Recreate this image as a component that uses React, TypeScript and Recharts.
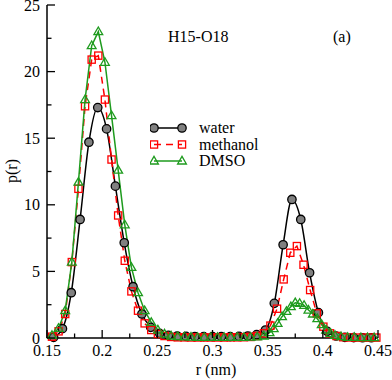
import { ComposedChart, Line, XAxis, YAxis, Legend } from "recharts";

const INK = "#000";
const RED = "#ff0000";
const GREEN = "#1e9b1e";
const GRAY = "#808080";
const TXT = { fontFamily: '"Liberation Serif"', fontSize: 16 };

// tick values (majors get labels)
const X_TICKS = [0.15, 0.175, 0.2, 0.225, 0.25, 0.275, 0.3, 0.325, 0.35, 0.375, 0.4, 0.425, 0.45];
const X_MAJOR = [0.15, 0.2, 0.25, 0.3, 0.35, 0.4, 0.45];
const Y_TICKS = [0, 2.5, 5, 7.5, 10, 12.5, 15, 17.5, 20, 22.5, 25];
const Y_MAJOR = [0, 5, 10, 15, 20, 25];

// water, r (nm) / p(r)
const waterR = [
  0.156, 0.164, 0.172, 0.18, 0.188, 0.196, 0.204, 0.212, 0.22, 0.228, 0.236, 0.244, 0.252,
  0.26, 0.268, 0.276, 0.284, 0.292, 0.3, 0.308, 0.316, 0.324, 0.332, 0.34, 0.348, 0.356,
  0.364, 0.372, 0.38, 0.388, 0.396, 0.404, 0.412, 0.42, 0.428, 0.436, 0.444,
];
const waterP = [
  0.05, 0.7, 3.4, 8.9, 14.7, 17.3, 15.7, 11.4, 7.15, 3.85, 1.8, 0.8, 0.35,
  0.2, 0.15, 0.12, 0.1, 0.1, 0.1, 0.1, 0.1, 0.12, 0.15, 0.25, 0.6, 2.6,
  7.0, 10.4, 8.9, 4.9, 1.9, 0.5, 0.15, 0.05, 0.03, 0.02, 0.02,
];

// methanol
const methR = [
  0.1545, 0.1605, 0.1665, 0.1725, 0.1785, 0.1845, 0.1905, 0.1965, 0.2025, 0.2085, 0.2145,
  0.2205, 0.2265, 0.2325, 0.2385, 0.2445, 0.2505, 0.2565, 0.2625, 0.2685, 0.2745, 0.2805,
  0.2865, 0.2925, 0.2985, 0.3045, 0.3105, 0.3165, 0.3225, 0.3285, 0.3345, 0.3405, 0.3465,
  0.3525, 0.3585, 0.3645, 0.3705, 0.3765, 0.3825, 0.3885, 0.3945, 0.4005, 0.4065, 0.4125,
  0.4185, 0.4245, 0.4305, 0.4365, 0.4425, 0.4485,
];
const methP = [
  0.1, 0.5, 1.8, 5.7, 11.2, 17.4, 20.9, 21.2, 17.9, 13.4, 9.2,
  5.8, 3.5, 2.05, 1.1, 0.6, 0.3, 0.15, 0.08, 0.05, 0.05, 0.04,
  0.04, 0.04, 0.04, 0.04, 0.04, 0.05, 0.05, 0.06, 0.08, 0.15, 0.35,
  0.93, 2.2, 4.4, 6.4, 6.9, 5.5, 3.6, 1.85, 0.85, 0.35, 0.15,
  0.06, 0.04, 0.03, 0.03, 0.03, 0.03,
];

// DMSO
const dmsoR = [
  0.1545, 0.1605, 0.1665, 0.1725, 0.1785, 0.1845, 0.1905, 0.1965, 0.2025, 0.2085, 0.2145,
  0.2205, 0.2265, 0.2325, 0.2385, 0.2445, 0.2505, 0.2565, 0.2625, 0.2685, 0.2745, 0.2805,
  0.2865, 0.2925, 0.2985, 0.3045, 0.3105, 0.3165, 0.3225, 0.3285, 0.3345, 0.3405, 0.3465,
  0.3517, 0.3555, 0.359, 0.363, 0.367, 0.371, 0.375, 0.379, 0.383, 0.387, 0.391, 0.395,
  0.399, 0.403, 0.407, 0.411, 0.4165, 0.4225, 0.4285, 0.4345, 0.4405, 0.4465,
];
const dmsoP = [
  0.2, 0.73, 2.05, 5.7, 11.7, 17.9, 21.95, 23.0, 20.7, 16.7, 12.6,
  8.5, 5.3, 3.4, 2.05, 1.17, 0.6, 0.3, 0.15, 0.1, 0.08, 0.06,
  0.05, 0.05, 0.05, 0.05, 0.05, 0.05, 0.05, 0.05, 0.06, 0.08, 0.15,
  0.4, 0.7, 1.1, 1.6, 2.0, 2.35, 2.65, 2.6, 2.45, 2.1, 1.8, 1.45,
  1.0, 0.6, 0.35, 0.2, 0.1, 0.05, 0.04, 0.03, 0.03, 0.03,
];

const zip = (r: number[], p: number[]) => r.map((x, i) => ({ r: x, p: p[i] }));
const waterData = zip(waterR, waterP);
const methData = zip(methR, methP);
const dmsoData = zip(dmsoR, dmsoP);

const LEGEND = ["water", "methanol", "DMSO"];

function Circle({ cx, cy }: { cx: number; cy: number }) {
  return <circle cx={cx} cy={cy} r={4.2} fill={GRAY} stroke={INK} strokeWidth={1.3} />;
}
function Square({ cx, cy }: { cx: number; cy: number }) {
  return <rect x={cx - 3.6} y={cy - 3.6} width={7.2} height={7.2} fill="none" stroke={RED} strokeWidth={1.3} />;
}
function Tri({ cx, cy }: { cx: number; cy: number }) {
  return (
    <polygon
      points={`${cx},${cy - 4.6} ${cx - 4.4},${cy + 3} ${cx + 4.4},${cy + 3}`}
      fill="none"
      stroke={GREEN}
      strokeWidth={1.3}
    />
  );
}

const dot = (Shape: typeof Circle) => (props: any) =>
  <Shape key={props.index} cx={props.cx} cy={props.cy} />;

function BottomTick({ x, y, payload }: any) {
  const major = X_MAJOR.includes(payload.value);
  return (
    <g>
      <line x1={x} x2={x} y1={y} y2={y - (major ? 8 : 4.5)} stroke={INK} strokeWidth={1.3} />
      {major && (
        <text x={x} y={y + 18} textAnchor="middle" style={TXT} fill={INK}>
          {payload.value}
        </text>
      )}
    </g>
  );
}
function TopTick({ x, y, payload }: any) {
  const major = X_MAJOR.includes(payload.value);
  return <line x1={x} x2={x} y1={y} y2={y + (major ? 8 : 4.5)} stroke={INK} strokeWidth={1.3} />;
}
function LeftTick({ x, y, payload }: any) {
  const major = Y_MAJOR.includes(payload.value);
  return (
    <g>
      <line x1={x} x2={x + (major ? 8 : 4.5)} y1={y} y2={y} stroke={INK} strokeWidth={1.3} />
      {major && (
        <text x={x - 7} y={y + 5.5} textAnchor="end" style={TXT} fill={INK}>
          {payload.value}
        </text>
      )}
    </g>
  );
}
function RightTick({ x, y, payload }: any) {
  const major = Y_MAJOR.includes(payload.value);
  return <line x1={x} x2={x - (major ? 8 : 4.5)} y1={y} y2={y} stroke={INK} strokeWidth={1.3} />;
}

function LegendBox() {
  const rows = [
    { stroke: INK, dash: undefined, Shape: Circle },
    { stroke: RED, dash: "7 5", Shape: Square },
    { stroke: GREEN, dash: undefined, Shape: Tri },
  ];
  return (
    <svg width={130} height={50}>
      {rows.map((row, i) => {
        const y = 8 + i * 16.5;
        return (
          <g key={LEGEND[i]}>
            <line x1={4} x2={32} y1={y} y2={y} stroke={row.stroke} strokeWidth={1.5} strokeDasharray={row.dash} />
            <row.Shape cx={4} cy={y} />
            <row.Shape cx={32} cy={y} />
            <text x={49} y={y + 5} style={TXT} fill={INK}>
              {LEGEND[i]}
            </text>
          </g>
        );
      })}
    </svg>
  );
}

export default function App() {
  const axisLine = { stroke: INK, strokeWidth: 1.5 };
  return (
    <div style={{ position: "absolute", left: 0, top: 0, width: 392, height: 380, background: "#fff" }}>
      <ComposedChart width={392} height={380} margin={{ top: 5, right: 14, bottom: 0, left: 0 }}>
        <XAxis
          dataKey="r"
          type="number"
          domain={[0.15, 0.45]}
          ticks={X_TICKS}
          interval={0}
          height={42}
          axisLine={axisLine}
          tickLine={false}
          tickSize={0}
          tickMargin={0}
          tick={<BottomTick />}
          allowDuplicatedCategory={false}
        />
        <XAxis
          xAxisId="top"
          orientation="top"
          type="number"
          domain={[0.15, 0.45]}
          ticks={X_TICKS}
          interval={0}
          height={0}
          axisLine={axisLine}
          tickLine={false}
          tickSize={0}
          tickMargin={0}
          tick={<TopTick />}
        />
        <YAxis
          type="number"
          domain={[0, 25]}
          ticks={Y_TICKS}
          interval={0}
          width={47}
          axisLine={axisLine}
          tickLine={false}
          tickSize={0}
          tickMargin={0}
          tick={<LeftTick />}
        />
        <YAxis
          yAxisId="right"
          orientation="right"
          type="number"
          domain={[0, 25]}
          ticks={Y_TICKS}
          interval={0}
          width={0}
          axisLine={axisLine}
          tickLine={false}
          tickSize={0}
          tickMargin={0}
          tick={<RightTick />}
        />
        <Line
          data={waterData}
          dataKey="p"
          type="monotone"
          stroke={INK}
          strokeWidth={1.5}
          dot={dot(Circle)}
          activeDot={false}
          isAnimationActive={false}
        />
        <Line
          data={methData}
          dataKey="p"
          type="linear"
          stroke={RED}
          strokeWidth={1.5}
          strokeDasharray="7 5"
          dot={dot(Square)}
          activeDot={false}
          isAnimationActive={false}
        />
        <Line
          data={dmsoData}
          dataKey="p"
          type="linear"
          stroke={GREEN}
          strokeWidth={1.5}
          dot={dot(Tri)}
          activeDot={false}
          isAnimationActive={false}
        />
        <Legend
          layout="vertical"
          align="center"
          verticalAlign="middle"
          wrapperStyle={{ left: 150, top: 120, width: 130, height: 50 }}
          content={() => <LegendBox />}
        />
      </ComposedChart>
      <svg
        width={392}
        height={380}
        style={{ position: "absolute", left: 0, top: 0, pointerEvents: "none" }}
      >
        <text x={168} y={41.5} style={TXT} fill={INK}>
          H15-O18
        </text>
        <text x={333} y={42} style={TXT} fill={INK}>
          (a)
        </text>
        <text x={216} y={375} textAnchor="middle" style={TXT} fill={INK}>
          r (nm)
        </text>
        <text x={17} y={171} transform="rotate(-90 17 171)" textAnchor="middle" style={TXT} fill={INK}>
          p(r)
        </text>
      </svg>
    </div>
  );
}
